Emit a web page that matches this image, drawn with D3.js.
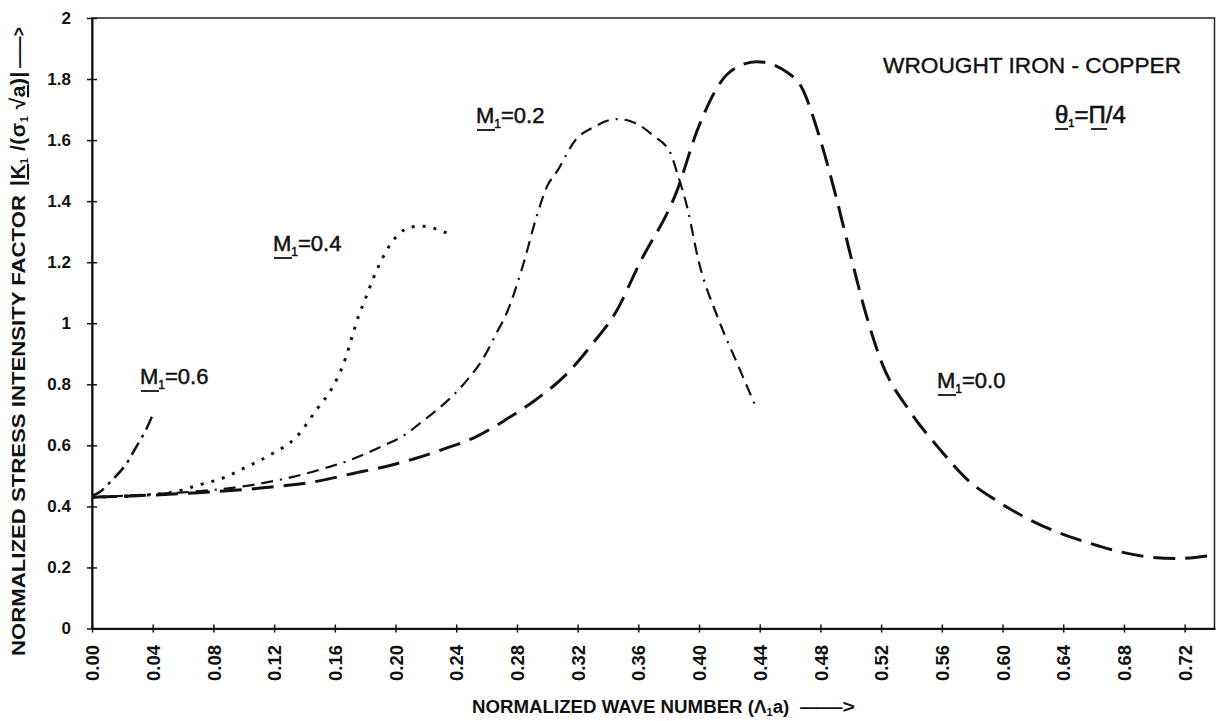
<!DOCTYPE html>
<html>
<head>
<meta charset="utf-8">
<script src="https://cdn.jsdelivr.net/npm/d3@7"></script>
<style>
body { margin: 0; background: #fff; }
svg { display: block; }
text { font-family: "Liberation Sans", Arial, sans-serif; fill: #111; }
</style>
</head>
<body>
<svg id="chart"></svg>
<script>
// tick values
var xTicks = [0, 0.04, 0.08, 0.12, 0.16, 0.20, 0.24, 0.28, 0.32, 0.36, 0.40, 0.44, 0.48, 0.52, 0.56, 0.60, 0.64, 0.68, 0.72]
var yTicks = [0, 0.2, 0.4, 0.6, 0.8, 1, 1.2, 1.4, 1.6, 1.8, 2]

// M1 = 0.0 (long dash)
var m00_x = [0, 0.03, 0.067, 0.111, 0.148, 0.172, 0.193, 0.213, 0.233, 0.253, 0.272, 0.292, 0.312, 0.33, 0.345, 0.361, 0.385, 0.40, 0.42, 0.438, 0.458, 0.467, 0.48, 0.49, 0.50, 0.51, 0.52, 0.539, 0.558, 0.577, 0.598, 0.618, 0.638, 0.657, 0.677, 0.697, 0.714, 0.74]
var m00_y = [0.43, 0.435, 0.444, 0.46, 0.482, 0.508, 0.53, 0.557, 0.59, 0.628, 0.682, 0.748, 0.83, 0.934, 1.035, 1.198, 1.428, 1.647, 1.822, 1.857, 1.822, 1.778, 1.60, 1.42, 1.22, 1.03, 0.876, 0.711, 0.591, 0.487, 0.413, 0.356, 0.312, 0.28, 0.252, 0.234, 0.229, 0.241]

// M1 = 0.2 (short dash)
var m02_x = [0, 0.04, 0.071, 0.091, 0.111, 0.131, 0.150, 0.169, 0.179, 0.193, 0.2075, 0.216, 0.227, 0.237, 0.247, 0.257, 0.267, 0.273, 0.284, 0.293, 0.30, 0.306, 0.319, 0.330, 0.346, 0.357, 0.370, 0.381, 0.3855, 0.392, 0.40, 0.412, 0.425, 0.438]
var m02_y = [0.43, 0.44, 0.45, 0.46, 0.475, 0.495, 0.52, 0.55, 0.57, 0.601, 0.639, 0.672, 0.715, 0.759, 0.813, 0.879, 0.972, 1.03, 1.19, 1.35, 1.45, 1.494, 1.603, 1.641, 1.669, 1.658, 1.614, 1.559, 1.494, 1.384, 1.198, 1.023, 0.87, 0.72]

// M1 = 0.4 (dotted)
var m04_x = [0, 0.05, 0.071, 0.089, 0.098, 0.1175, 0.135, 0.148, 0.158, 0.166, 0.172, 0.1756, 0.18, 0.1855, 0.191, 0.1965, 0.201, 0.21, 0.2175, 0.2305, 0.238]
var m04_y = [0.43, 0.444, 0.471, 0.498, 0.52, 0.569, 0.629, 0.717, 0.786, 0.87, 0.966, 1.023, 1.078, 1.149, 1.209, 1.258, 1.286, 1.315, 1.318, 1.302, 1.286]

// M1 = 0.6 (dash dot)
var m06_x = [0, 0.0045, 0.012, 0.024, 0.0297, 0.036, 0.04]
var m06_y = [0.435, 0.445, 0.48, 0.55, 0.60, 0.655, 0.70]

var width = 1216, height = 721

var svg = d3.select("#chart")
    .attr("width", width)
    .attr("height", height)

var xScale = d3.scaleLinear().domain([0, 0.74]).range([92, 1215])
var yScale = d3.scaleLinear().domain([0, 2]).range([628.5, 18])

// frame (top + right)
svg.append("rect")
    .attr("x", xScale(0)).attr("y", yScale(2))
    .attr("width", xScale(0.74) - xScale(0) - 0.5)
    .attr("height", yScale(0) - yScale(2))
    .attr("fill", "none").attr("stroke", "#222").attr("stroke-width", 1.5)

var xAxis = svg.append("g")
    .attr("transform", "translate(0," + yScale(0) + ")")
    .call(d3.axisBottom(xScale).tickValues(xTicks).tickFormat(d3.format(".2f")).tickSizeOuter(0))
xAxis.select(".domain").attr("stroke", "#111").attr("stroke-width", 2)
xAxis.selectAll(".tick line").attr("y1", -4).attr("y2", 4).attr("stroke", "#111").attr("stroke-width", 1.5)
xAxis.selectAll(".tick text")
    .attr("transform", "rotate(-90)")
    .attr("x", -16.5).attr("y", 0).attr("dy", "0.36em")
    .style("text-anchor", "end")
    .style("font-size", "18.5px").style("font-weight", "bold")

var yAxis = svg.append("g")
    .attr("transform", "translate(" + xScale(0) + ",0)")
    .call(d3.axisLeft(yScale).tickValues(yTicks).tickFormat(d3.format("")).tickSizeOuter(0))
yAxis.select(".domain").attr("stroke", "#111").attr("stroke-width", 2)
yAxis.selectAll(".tick line").attr("x1", -5).attr("x2", 5).attr("stroke", "#111").attr("stroke-width", 1.5)
yAxis.selectAll(".tick text")
    .attr("x", -21)
    .style("font-size", "17px").style("font-weight", "bold")

svg.selectAll(".tick text").style("fill", "#111")

var line = d3.line()
    .x(d => xScale(d[0]))
    .y(d => yScale(d[1]))
    .curve(d3.curveMonotoneX)

var series = [
    {x: m00_x, y: m00_y, w: 3, dash: "22,10"},
    {x: m02_x, y: m02_y, w: 2.2, dash: "12,7,12,7,12,7,2,7"},
    {x: m04_x, y: m04_y, w: 3, dash: "3,8"},
    {x: m06_x, y: m06_y, w: 2.5, dash: "14,6,3,6"}
]

svg.append("g").selectAll("path")
    .data(series)
    .enter()
    .append("path")
    .attr("d", d => line(d3.zip(d.x, d.y)))
    .attr("fill", "none")
    .attr("stroke", "#111")
    .attr("stroke-width", d => d.w)
    .attr("stroke-dasharray", d => d.dash)

// curve labels
function mLabel(x0, yb, val) {
    var t = svg.append("text").attr("x", x0).attr("y", yb)
        .style("font-size", "22px").style("stroke", "#111").style("stroke-width", 0.5)
    t.append("tspan").text("M")
    t.append("tspan").attr("dy", 5).style("font-size", "12px").text("1")
    t.append("tspan").attr("dy", -5).text("=" + val)
    svg.append("line")
        .attr("x1", x0 + 1).attr("x2", x0 + 19)
        .attr("y1", yb + 7).attr("y2", yb + 7)
        .attr("stroke", "#111").attr("stroke-width", 1.8)
}
mLabel(140, 384, "0.6")
mLabel(273, 251, "0.4")
mLabel(476, 123, "0.2")
mLabel(937, 388, "0.0")

svg.append("text")
    .attr("x", 883).attr("y", 73)
    .attr("textLength", 298).attr("lengthAdjust", "spacingAndGlyphs")
    .style("font-size", "22px").style("stroke", "#111").style("stroke-width", 0.4)
    .text("WROUGHT IRON - COPPER")

var th = svg.append("text").attr("x", 1055).attr("y", 123)
    .style("font-size", "24px").style("stroke", "#111").style("stroke-width", 0.6)
th.append("tspan").text("θ")
th.append("tspan").attr("dy", 4).style("font-size", "11px").text("1")
th.append("tspan").attr("dy", -4).text("=Π/4")
svg.append("line").attr("x1", 1055).attr("x2", 1068).attr("y1", 129).attr("y2", 129).attr("stroke", "#111").attr("stroke-width", 1.8)
svg.append("line").attr("x1", 1091).attr("x2", 1107).attr("y1", 129).attr("y2", 129).attr("stroke", "#111").attr("stroke-width", 1.8)

// x axis title
var xt = svg.append("text").attr("x", 472).attr("y", 713)
    .style("font-size", "18.7px").style("font-weight", "bold")
xt.append("tspan").text("NORMALIZED WAVE NUMBER (Λ")
xt.append("tspan").attr("dy", 3).style("font-size", "11px").text("1")
xt.append("tspan").attr("dy", -3).text("a)")
svg.append("text").attr("x", 800).attr("y", 713)
    .attr("textLength", 55).attr("lengthAdjust", "spacingAndGlyphs")
    .style("font-size", "18px").style("font-weight", "bold")
    .text("——>")

// y axis title
svg.append("text")
    .attr("transform", "translate(25,656) rotate(-90)")
    .attr("textLength", 461).attr("lengthAdjust", "spacingAndGlyphs")
    .style("font-size", "19px").style("font-weight", "bold")
    .text("NORMALIZED  STRESS  INTENSITY  FACTOR")
var yf = svg.append("text")
    .attr("transform", "translate(25,186) rotate(-90)")
    .style("font-size", "21px").style("font-weight", "bold").style("letter-spacing", "0.5px")
yf.append("tspan").text("|")
yf.append("tspan").style("text-decoration", "underline").text("K")
yf.append("tspan").attr("dy", 3).style("font-size", "11px").text("1")
yf.append("tspan").attr("dy", -3).text(" /(σ")
yf.append("tspan").attr("dy", 3).style("font-size", "11px").text("1")
yf.append("tspan").attr("dy", -3).text(" √")
yf.append("tspan").style("text-decoration", "underline").text("a")
yf.append("tspan").text(")|")
svg.append("text")
    .attr("transform", "translate(25,68) rotate(-90)")
    .attr("textLength", 41).attr("lengthAdjust", "spacingAndGlyphs")
    .style("font-size", "19px").style("font-weight", "bold")
    .text("——>")
</script>
</body>
</html>
